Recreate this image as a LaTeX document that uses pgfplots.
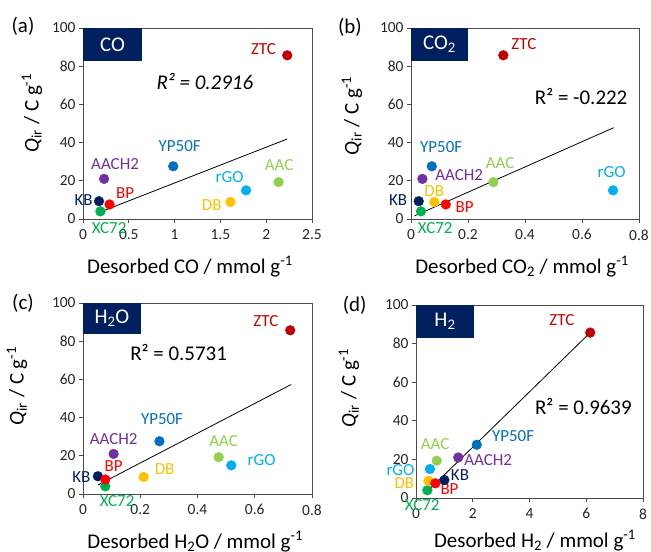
\documentclass[border=0pt]{standalone}
\usepackage{fontspec}
\setmainfont{Carlito}
\usepackage{pgfplots}
\usepackage{pgfplotstable}
\pgfplotsset{compat=1.18}
\definecolor{ztc}{HTML}{C00000}
\definecolor{aac}{HTML}{92D050}
\definecolor{rgo}{HTML}{00B0F0}
\definecolor{db}{HTML}{FFC000}
\definecolor{yp}{HTML}{0070C0}
\definecolor{aach}{HTML}{7030A0}
\definecolor{kb}{HTML}{002060}
\definecolor{bp}{HTML}{FF0000}
\definecolor{xc}{HTML}{00B050}
\definecolor{navy}{HTML}{002060}
\newcommand\fs[1]{\fontsize{#1}{#1}\selectfont}
\newcommand\lab[4]{\node[text=#1, font=\fs{17}, inner sep=0pt] at (axis cs:#2,#3) {#4};}

\pgfplotstableread{
name x y
KB 0.175 9.3
XC72 0.19 4.0
AACH2 0.23 21.0
BP 0.29 7.6
YP50F 0.985 27.6
DB 1.61 8.9
rGO 1.78 15.0
AAC 2.135 19.3
ZTC 2.23 85.7
}\dataCO
\pgfplotstableread{
name x y
KB 0.027 9.3
XC72 0.035 4.0
AACH2 0.040 21.0
YP50F 0.073 27.6
DB 0.082 8.9
BP 0.122 7.6
AAC 0.289 19.3
ZTC 0.324 85.7
rGO 0.709 15.0
}\dataCOtwo
\pgfplotstableread{
name x y
KB 0.052 9.3
XC72 0.078 4.0
BP 0.078 7.6
AACH2 0.107 21.0
DB 0.212 8.9
YP50F 0.267 27.6
AAC 0.474 19.3
rGO 0.518 15.0
ZTC 0.724 85.7
}\dataHtwoO
\pgfplotstableread{
name x y
XC72 0.40 4.0
DB 0.44 8.9
rGO 0.49 15.0
BP 0.68 7.6
AAC 0.73 19.3
KB 1.0 9.3
AACH2 1.49 21.0
YP50F 2.14 27.6
ZTC 6.14 85.7
}\dataHtwo

\pgfplotsset{
  myax/.style={
    scale only axis,
    clip=false,
    ymin=0, ymax=100, ytick={0,20,...,100},
    axis line style={black!70, line width=0.8bp},
    tick style={black!70, line width=0.8bp},
    tick align=outside,
    major tick length=4bp,
    xtick pos=bottom, ytick pos=left,
    /pgf/number format/assume math mode=true,
    tick label style={font=\fs{15.5}, text=black!85},
    xticklabel style={yshift=-3bp},
    label style={font=\fs{21}},
    ylabel={\textit{Q}\textsubscript{ir} / C g\textsuperscript{-1}},
  },
  pts/.style={
    scatter, only marks, mark=*, mark size=4.9pt,
    scatter src=explicit symbolic,
    scatter/classes={
      ZTC={mark=*,draw=ztc,fill=ztc},
      AAC={mark=*,draw=aac,fill=aac},
      rGO={mark=*,draw=rgo,fill=rgo},
      DB={mark=*,draw=db,fill=db},
      YP50F={mark=*,draw=yp,fill=yp},
      AACH2={mark=*,draw=aach,fill=aach},
      KB={mark=*,draw=kb,fill=kb},
      BP={mark=*,draw=bp,fill=bp},
      XC72={mark=*,draw=xc,fill=xc}
    }
  },
  trend/.style={black, line width=0.8bp, no marks},
}

\begin{document}
\begin{tikzpicture}[x=1bp,y=1bp]
\useasboundingbox (0,0) rectangle (651,552);

% (a) CO
\begin{axis}[myax, at={(83bp,333bp)}, anchor=south west, width=229bp, height=191bp,
  xmin=0, xmax=2.5, xtick={0,0.5,...,2.5},
  xlabel={Desorbed CO / mmol g\textsuperscript{-1}},
  xlabel style={at={(rel axis cs:0.467,-0.283)}, anchor=base},
  ylabel style={at={(rel axis cs:-0.223,0.555)}, anchor=center}]
\fill[navy] (axis cs:0,82.7) rectangle (axis cs:0.645,100);
\node[text=white, font=\fs{21}] at (axis cs:0.322,91.3) {CO};
\addplot[trend] coordinates {(0.17,3.3) (2.23,41.9)};
\addplot[pts] table[x=x,y=y,meta=name] {\dataCO};
\node[font=\fs{21}] at (rel axis cs:-0.262,1.01) {(a)};
\node[font=\fs{21}\itshape] at (axis cs:1.33,71.9) {R² = 0.2916};
\lab{ztc}{1.97}{88.8}{ZTC}
\lab{yp}{1.055}{38.4}{YP50F}
\lab{aach}{0.35}{28.8}{AACH2}
\lab{kb}{0.007}{9.9}{KB}
\lab{bp}{0.46}{13.4}{BP}
\lab{xc}{0.285}{-4.5}{XC72}
\lab{rgo}{1.6}{22}{rGO}
\lab{db}{1.405}{7.3}{DB}
\lab{aac}{2.14}{28.3}{AAC}
\end{axis}

% (b) CO2
\begin{axis}[myax, at={(411bp,333bp)}, anchor=south west, width=228bp, height=191bp,
  xmin=0, xmax=0.8, xtick={0,0.2,...,0.8},
  xlabel={Desorbed CO\textsubscript{2} / mmol g\textsuperscript{-1}},
  xlabel style={at={(rel axis cs:0.487,-0.283)}, anchor=base},
  ylabel style={at={(rel axis cs:-0.259,0.54)}, anchor=center}]
\fill[navy] (axis cs:0,82.7) rectangle (axis cs:0.2017,100);
\node[text=white, font=\fs{21}] at (axis cs:0.1,91.3) {CO\textsubscript{2}};
\addplot[trend] coordinates {(0.012,1.6) (0.711,47.8)};
\addplot[pts] table[x=x,y=y,meta=name] {\dataCOtwo};
\node[font=\fs{21}] at (rel axis cs:-0.268,1.005) {(b)};
\node[font=\fs{21}] at (axis cs:0.597,64) {R² = -0.222};
\lab{ztc}{0.396}{91.4}{ZTC}
\lab{yp}{0.106}{37.9}{YP50F}
\lab{aach}{0.169}{23}{AACH2}
\lab{aac}{0.3125}{29.1}{AAC}
\lab{rgo}{0.704}{24.8}{rGO}
\lab{db}{0.0816}{14.8}{DB}
\lab{kb}{-0.045}{9.9}{KB}
\lab{bp}{0.188}{6.1}{BP}
\lab{xc}{0.085}{-4.5}{XC72}
\end{axis}

% (c) H2O
\begin{axis}[myax, at={(83bp,58bp)}, anchor=south west, width=229bp, height=191bp,
  xmin=0, xmax=0.8, xtick={0,0.2,...,0.8},
  xlabel={Desorbed H\textsubscript{2}O / mmol g\textsuperscript{-1}},
  xlabel style={at={(rel axis cs:0.49,-0.283)}, anchor=base},
  ylabel style={at={(rel axis cs:-0.288,0.565)}, anchor=center}]
\fill[navy] (axis cs:0,83.6) rectangle (axis cs:0.2026,100);
\node[text=white, font=\fs{21}] at (axis cs:0.101,91.8) {H\textsubscript{2}O};
\addplot[trend] coordinates {(0.052,4.7) (0.727,57.3)};
\addplot[pts] table[x=x,y=y,meta=name] {\dataHtwoO};
\node[font=\fs{21}] at (rel axis cs:-0.262,1.0) {(c)};
\node[font=\fs{21}] at (axis cs:0.334,73.9) {R² = 0.5731};
\lab{ztc}{0.639}{90.6}{ZTC}
\lab{yp}{0.276}{39.2}{YP50F}
\lab{aach}{0.107}{28.7}{AACH2}
\lab{bp}{0.107}{14.6}{BP}
\lab{kb}{-0.006}{9.1}{KB}
\lab{xc}{0.119}{-3.5}{XC72}
\lab{db}{0.285}{13.1}{DB}
\lab{aac}{0.491}{27.9}{AAC}
\lab{rgo}{0.624}{17.8}{rGO}
\end{axis}

% (d) H2
\begin{axis}[myax, at={(416bp,54bp)}, anchor=south west, width=227bp, height=193bp,
  xmin=0, xmax=8, xtick={0,2,...,8},
  xlabel={Desorbed H\textsubscript{2} / mmol g\textsuperscript{-1}},
  xlabel style={at={(rel axis cs:0.524,-0.254)}, anchor=base},
  ylabel style={at={(rel axis cs:-0.295,0.57)}, anchor=center}]
\fill[navy] (axis cs:0,83.1) rectangle (axis cs:2.05,100);
\node[text=white, font=\fs{21}] at (axis cs:1.02,91.5) {H\textsubscript{2}};
\addplot[trend] coordinates {(0.44,4) (6.14,85.7)};
\addplot[pts] table[x=x,y=y,meta=name] {\dataHtwo};
\node[font=\fs{21}] at (rel axis cs:-0.27,1.0) {(d)};
\node[font=\fs{21}] at (axis cs:5.9,47.5) {R² = 0.9639};
\lab{ztc}{5.14}{92.4}{ZTC}
\lab{yp}{3.42}{32.3}{YP50F}
\lab{aac}{0.67}{28.2}{AAC}
\lab{aach}{2.54}{19.5}{AACH2}
\lab{rgo}{-0.55}{14.7}{rGO}
\lab{kb}{1.55}{11.9}{KB}
\lab{db}{-0.41}{7.9}{DB}
\lab{bp}{1.18}{4.5}{BP}
\lab{xc}{0.22}{-3.8}{XC72}
\end{axis}
\end{tikzpicture}
\end{document}
